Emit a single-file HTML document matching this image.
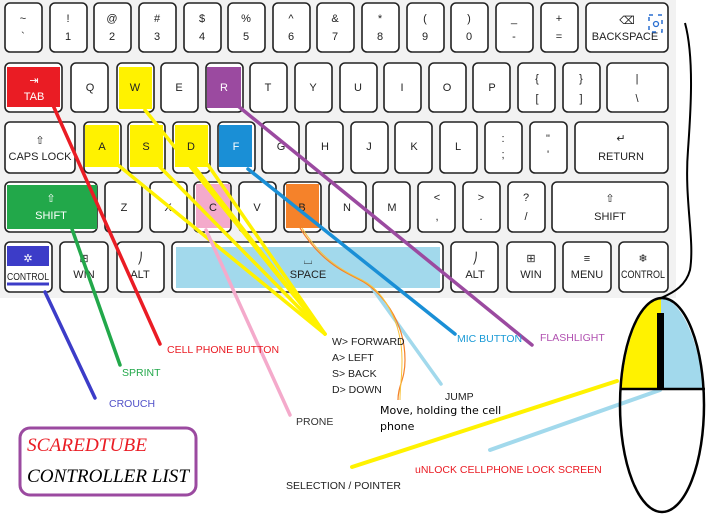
<!DOCTYPE html>
<html><head><meta charset="utf-8"><style>
html,body{margin:0;padding:0;background:#fff}
svg{display:block}
.k{fill:#fff;stroke:#222;stroke-width:1.6}
.t{font-family:"Liberation Sans Narrow","Liberation Sans",sans-serif;font-size:11px;fill:#222;text-anchor:middle}
.l{font-family:"Liberation Sans Narrow","Liberation Sans",sans-serif;font-size:10.5px}
</style></head><body>
<svg width="718" height="530" viewBox="0 0 718 530" xmlns="http://www.w3.org/2000/svg">
<rect x="0" y="0" width="676" height="298" fill="#f2f2f2"/>
<g>
<rect class="k" x="5" y="3" width="37" height="49" rx="5"/><text class="t" x="23" y="22">~</text><text class="t" x="23" y="40">`</text>
<rect class="k" x="50" y="3" width="37" height="49" rx="5"/><text class="t" x="68" y="22">!</text><text class="t" x="68" y="40">1</text>
<rect class="k" x="94" y="3" width="37" height="49" rx="5"/><text class="t" x="112" y="22">@</text><text class="t" x="112" y="40">2</text>
<rect class="k" x="139" y="3" width="37" height="49" rx="5"/><text class="t" x="157" y="22">#</text><text class="t" x="157" y="40">3</text>
<rect class="k" x="184" y="3" width="37" height="49" rx="5"/><text class="t" x="202" y="22">$</text><text class="t" x="202" y="40">4</text>
<rect class="k" x="228" y="3" width="37" height="49" rx="5"/><text class="t" x="246" y="22">%</text><text class="t" x="246" y="40">5</text>
<rect class="k" x="273" y="3" width="37" height="49" rx="5"/><text class="t" x="291" y="22">^</text><text class="t" x="291" y="40">6</text>
<rect class="k" x="317" y="3" width="37" height="49" rx="5"/><text class="t" x="335" y="22">&amp;</text><text class="t" x="335" y="40">7</text>
<rect class="k" x="362" y="3" width="37" height="49" rx="5"/><text class="t" x="380" y="22">*</text><text class="t" x="380" y="40">8</text>
<rect class="k" x="407" y="3" width="37" height="49" rx="5"/><text class="t" x="425" y="22">(</text><text class="t" x="425" y="40">9</text>
<rect class="k" x="451" y="3" width="37" height="49" rx="5"/><text class="t" x="469" y="22">)</text><text class="t" x="469" y="40">0</text>
<rect class="k" x="496" y="3" width="37" height="49" rx="5"/><text class="t" x="514" y="22">_</text><text class="t" x="514" y="40">-</text>
<rect class="k" x="541" y="3" width="37" height="49" rx="5"/><text class="t" x="559" y="22">+</text><text class="t" x="559" y="40">=</text>
<rect class="k" x="586" y="3" width="82" height="49" rx="5"/><text class="t" x="627" y="24">⌫</text><text class="t" x="625" y="40">BACKSPACE</text>
<rect x="649" y="15" width="13" height="17" fill="none" stroke="#2a6fd0" stroke-width="1.5" stroke-dasharray="4 5"/><circle cx="656" cy="24" r="2.5" fill="none" stroke="#2a6fd0" stroke-width="1.3"/>
<rect class="k" x="5" y="63" width="57" height="49" rx="5"/><rect x="7" y="67" width="53" height="40" fill="#ea1c24"/><text class="t" x="34" y="100" style="fill:#fff">TAB</text><text class="t" x="34" y="84" style="fill:#fff">⇥</text>
<rect class="k" x="71" y="63" width="37" height="49" rx="5"/><text class="t" x="90" y="91">Q</text>
<rect class="k" x="117" y="63" width="37" height="49" rx="5"/><rect x="119" y="67" width="33" height="42" fill="#fff200"/><text class="t" x="135" y="91">W</text>
<rect class="k" x="161" y="63" width="37" height="49" rx="5"/><text class="t" x="179" y="91">E</text>
<rect class="k" x="206" y="63" width="37" height="49" rx="5"/><rect x="207" y="67" width="34" height="41" fill="#9b4aa0"/><text class="t" x="224" y="91" style="fill:#fff">R</text>
<rect class="k" x="250" y="63" width="37" height="49" rx="5"/><text class="t" x="268" y="91">T</text>
<rect class="k" x="295" y="63" width="37" height="49" rx="5"/><text class="t" x="313" y="91">Y</text>
<rect class="k" x="340" y="63" width="37" height="49" rx="5"/><text class="t" x="358" y="91">U</text>
<rect class="k" x="384" y="63" width="37" height="49" rx="5"/><text class="t" x="402" y="91">I</text>
<rect class="k" x="429" y="63" width="37" height="49" rx="5"/><text class="t" x="447" y="91">O</text>
<rect class="k" x="473" y="63" width="37" height="49" rx="5"/><text class="t" x="492" y="91">P</text>
<rect class="k" x="518" y="63" width="37" height="49" rx="5"/><text class="t" x="537" y="82">{</text><text class="t" x="537" y="102">[</text>
<rect class="k" x="563" y="63" width="37" height="49" rx="5"/><text class="t" x="581" y="82">}</text><text class="t" x="581" y="102">]</text>
<rect class="k" x="607" y="63" width="61" height="49" rx="5"/><text class="t" x="637" y="82">|</text><text class="t" x="637" y="102">\</text>
<rect class="k" x="5" y="122" width="70" height="51" rx="5"/><text class="t" x="40" y="144">⇧</text><text class="t" x="40" y="160">CAPS LOCK</text>
<rect class="k" x="84" y="122" width="37" height="51" rx="5"/><rect x="85" y="125" width="34" height="42" fill="#fff200"/><text class="t" x="102" y="150">A</text>
<rect class="k" x="128" y="122" width="37" height="51" rx="5"/><rect x="130" y="125" width="33" height="42" fill="#fff200"/><text class="t" x="146" y="150">S</text>
<rect class="k" x="173" y="122" width="37" height="51" rx="5"/><rect x="175" y="125" width="33" height="42" fill="#fff200"/><text class="t" x="191" y="150">D</text>
<rect class="k" x="218" y="122" width="37" height="51" rx="5"/><rect x="219" y="125" width="33" height="42" fill="#1a8fd6"/><text class="t" x="236" y="150" style="fill:#fff">F</text>
<rect class="k" x="262" y="122" width="37" height="51" rx="5"/><text class="t" x="281" y="150">G</text>
<rect class="k" x="306" y="122" width="37" height="51" rx="5"/><text class="t" x="325" y="150">H</text>
<rect class="k" x="351" y="122" width="37" height="51" rx="5"/><text class="t" x="369" y="150">J</text>
<rect class="k" x="395" y="122" width="37" height="51" rx="5"/><text class="t" x="414" y="150">K</text>
<rect class="k" x="440" y="122" width="37" height="51" rx="5"/><text class="t" x="458" y="150">L</text>
<rect class="k" x="485" y="122" width="37" height="51" rx="5"/><text class="t" x="503" y="142">:</text><text class="t" x="503" y="158">;</text>
<rect class="k" x="530" y="122" width="37" height="51" rx="5"/><text class="t" x="548" y="142">"</text><text class="t" x="548" y="158">'</text>
<rect class="k" x="575" y="122" width="93" height="51" rx="5"/><text class="t" x="621" y="142">↵</text><text class="t" x="621" y="160">RETURN</text>
<rect class="k" x="5" y="182" width="92" height="50" rx="5"/><rect x="7" y="185" width="90" height="44" fill="#22a84a"/><text class="t" x="51" y="202" style="fill:#fff">⇧</text><text class="t" x="51" y="219" style="fill:#fff">SHIFT</text>
<rect class="k" x="105" y="182" width="37" height="50" rx="5"/><text class="t" x="124" y="211">Z</text>
<rect class="k" x="150" y="182" width="37" height="50" rx="5"/><text class="t" x="168" y="211">X</text>
<rect class="k" x="194" y="182" width="37" height="50" rx="5"/><rect x="196" y="184" width="34" height="44" fill="#f4aacb"/><text class="t" x="213" y="211">C</text>
<rect class="k" x="239" y="182" width="37" height="50" rx="5"/><text class="t" x="257" y="211">V</text>
<rect class="k" x="284" y="182" width="37" height="50" rx="5"/><rect x="286" y="184" width="33" height="44" fill="#f5822a"/><text class="t" x="302" y="211">B</text>
<rect class="k" x="329" y="182" width="37" height="50" rx="5"/><text class="t" x="347" y="211">N</text>
<rect class="k" x="373" y="182" width="37" height="50" rx="5"/><text class="t" x="392" y="211">M</text>
<rect class="k" x="418" y="182" width="37" height="50" rx="5"/><text class="t" x="437" y="201">&lt;</text><text class="t" x="437" y="220">,</text>
<rect class="k" x="463" y="182" width="37" height="50" rx="5"/><text class="t" x="481" y="201">&gt;</text><text class="t" x="481" y="220">.</text>
<rect class="k" x="508" y="182" width="37" height="50" rx="5"/><text class="t" x="526" y="201">?</text><text class="t" x="526" y="220">/</text>
<rect class="k" x="552" y="182" width="116" height="50" rx="5"/><text class="t" x="610" y="202">⇧</text><text class="t" x="610" y="220">SHIFT</text>
<rect class="k" x="5" y="242" width="47" height="50" rx="5"/><rect x="7" y="246" width="42" height="20" fill="#3c3cc8"/><text class="t" x="28" y="262" style="fill:#fff">✲</text><text class="t" x="28" y="280" style="font-size:10px" textLength="42" lengthAdjust="spacingAndGlyphs">CONTROL</text><line x1="7" y1="284" x2="49" y2="284" stroke="#3c3cc8" stroke-width="3"/>
<rect class="k" x="60" y="242" width="48" height="50" rx="5"/><text class="t" x="84" y="262">⊞</text><text class="t" x="84" y="278">WIN</text>
<rect class="k" x="117" y="242" width="47" height="50" rx="5"/><text class="t" x="140" y="262">⎠</text><text class="t" x="140" y="278">ALT</text>
<rect class="k" x="172" y="242" width="271" height="50" rx="5"/><rect x="176" y="247" width="264" height="41" fill="#a2d9ec"/><text class="t" x="308" y="264">⌴</text><text class="t" x="308" y="278">SPACE</text>
<rect class="k" x="451" y="242" width="47" height="50" rx="5"/><text class="t" x="475" y="262">⎠</text><text class="t" x="475" y="278">ALT</text>
<rect class="k" x="507" y="242" width="48" height="50" rx="5"/><text class="t" x="531" y="262">⊞</text><text class="t" x="531" y="278">WIN</text>
<rect class="k" x="563" y="242" width="48" height="50" rx="5"/><text class="t" x="587" y="262">≡</text><text class="t" x="587" y="278">MENU</text>
<rect class="k" x="619" y="242" width="49" height="50" rx="5"/><text class="t" x="643" y="262">❄</text><text class="t" x="643" y="278" textLength="44" lengthAdjust="spacingAndGlyphs">CONTROL</text>
</g>
<g stroke-width="3.5" fill="none" stroke-linecap="round">
<line x1="52" y1="103" x2="160" y2="344" stroke="#ea1c24"/>
<line x1="238" y1="106" x2="532" y2="345" stroke="#9b4aa0"/>
<line x1="145" y1="110" x2="325" y2="334" stroke="#fff200"/>
<line x1="118" y1="165" x2="325" y2="334" stroke="#fff200"/>
<line x1="160" y1="167" x2="325" y2="334" stroke="#fff200"/>
<line x1="193" y1="165" x2="325" y2="334" stroke="#fff200"/>
<line x1="208" y1="165" x2="325" y2="334" stroke="#fff200"/>
<line x1="248" y1="169" x2="455" y2="334" stroke="#1a8fd6"/>
<line x1="72" y1="229" x2="120" y2="365" stroke="#22a84a"/>
<line x1="206" y1="230" x2="290" y2="415" stroke="#f4aacb"/>
<line x1="45" y1="292" x2="95" y2="398" stroke="#3c3cc8"/>
<line x1="370" y1="285" x2="441" y2="384" stroke="#a2d9ec"/>
<line x1="617" y1="381" x2="352" y2="467" stroke="#fff200" stroke-width="4"/>
<line x1="660" y1="390" x2="490" y2="450" stroke="#a2d9ec" stroke-width="4"/>
</g>
<path d="M300,228 C320,260 340,270 360,280 C380,290 405,320 405,360 C405,380 398,385 398,400" fill="none" stroke="#f5822a" stroke-width="1.2"/>
<path d="M302,228 C322,260 342,270 362,280 C382,290 402,320 402,360 C402,380 400,385 400,400" fill="none" stroke="#f7c23a" stroke-width="1"/>
<path d="M661,298 C640,300 626,340 621,389 L661,389 Z" fill="#fff200"/>
<path d="M661,298 C682,300 698,340 704,389 L661,389 Z" fill="#a2d9ec"/>
<ellipse cx="662" cy="405" rx="42" ry="107" fill="none" stroke="#000" stroke-width="2.5"/>
<line x1="620" y1="389" x2="705" y2="389" stroke="#000" stroke-width="2.5"/>
<rect x="657" y="313" width="7" height="76" fill="#000"/>
<path d="M685,23 C695,60 690,120 688,150 C684,200 695,240 690,270 C686,285 675,292 661,298" fill="none" stroke="#000" stroke-width="2"/>
<g class="l">
<text x="167" y="353" fill="#ea1c24">CELL PHONE BUTTON</text>
<text x="122" y="376" fill="#22a84a">SPRINT</text>
<text x="109" y="407" fill="#5050c8">CROUCH</text>
<text x="296" y="425" fill="#333">PRONE</text>
<text x="332" y="345" fill="#222">W&gt; FORWARD</text>
<text x="332" y="361" fill="#222">A&gt; LEFT</text>
<text x="332" y="377" fill="#222">S&gt; BACK</text>
<text x="332" y="393" fill="#222">D&gt; DOWN</text>
<text x="445" y="400" fill="#222">JUMP</text>
<text x="457" y="342" fill="#1a9ad6">MIC BUTTON</text>
<text x="540" y="341" fill="#b050b0">FLASHLIGHT</text>
<text x="286" y="489" fill="#222">SELECTION / POINTER</text>
<text x="415" y="473" fill="#ea1c24">uNLOCK CELLPHONE LOCK SCREEN</text>
</g>
<text x="380" y="414" font-family="'DejaVu Sans','Liberation Sans',sans-serif" font-size="11" fill="#000">Move, holding the cell</text>
<text x="380" y="430" font-family="'DejaVu Sans','Liberation Sans',sans-serif" font-size="11" fill="#000">phone</text>
<rect x="20" y="428" width="176" height="67" rx="10" fill="#fff" stroke="#9b4aa0" stroke-width="3"/>
<text x="27" y="451" font-family="'Liberation Serif',serif" font-style="italic" font-size="19" fill="#ea1c24" textLength="120" lengthAdjust="spacingAndGlyphs">SCAREDTUBE</text>
<text x="27" y="482" font-family="'Liberation Serif',serif" font-style="italic" font-size="19" fill="#000" textLength="162" lengthAdjust="spacingAndGlyphs">CONTROLLER LIST</text>
</svg>
</body></html>
